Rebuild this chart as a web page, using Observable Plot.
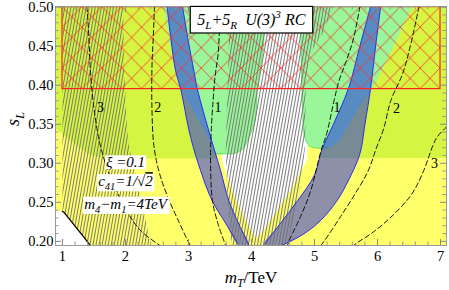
<!DOCTYPE html>
<html>
<head>
<meta charset="utf-8">
<script src="https://cdn.jsdelivr.net/npm/d3@7"></script>
<script src="https://cdn.jsdelivr.net/npm/@observablehq/plot@0.6"></script>
<style>
html,body{margin:0;padding:0;background:#fff;}
#chart svg{display:block;}
</style>
</head>
<body>
<div id="chart"></div>
<script>
// ---------- axes ----------
const xDomain = [0.889, 7.095];
const yDomain = [0.1947, 0.5008];
const xMajor = [1, 2, 3, 4, 5, 6, 7];
const yMajor = [0.20, 0.25, 0.30, 0.35, 0.40, 0.45, 0.50];
const xMinor = d3.range(1, 7.001, 0.2).filter(v => Math.abs(v - Math.round(v)) > 1e-6);
const yMinor = d3.range(0.20, 0.5001, 0.01).filter(v => Math.abs(v * 20 - Math.round(v * 20)) > 1e-6);
const xTitle = "m_T/TeV";
const yTitle = "s_L";

// ---------- regions (s_L vs m_T) ----------
const chartL = [[0.86,0.51],[3.2,0.51],[3.40,0.34],[3.46,0.306],[2.0,0.3062],[1.6,0.3075],[1.42,0.311],[1.29,0.319],[1.08,0.332],[0.86,0.347]];
const chartR = [[5.6,0.51],[7.2,0.51],[7.2,0.307],[6.5,0.3068],[5.8,0.3065],[5.3,0.307],[5.07,0.307],[5.12,0.318],[5.29,0.35],[5.54,0.396],[5.72,0.45],[5.89,0.51]];
const whiteV = [[4.0,0.5008],[4.9,0.5008],[4.9,0.33],[4.88,0.304],[4.62,0.265],[4.41,0.24],[4.20,0.215],[4.07,0.2035],[3.95,0.22],[3.83,0.24],[3.69,0.265],[3.53,0.304],[3.55,0.33],[4.0,0.45]];
const greenL = [[2.60,0.5008],[2.72,0.45],[2.846,0.402],[3.10,0.364],[3.349,0.327],[3.42,0.3125],[3.60,0.312],[3.72,0.3125],[3.86,0.318],[3.97,0.335],[4.05,0.352],[4.08,0.372],[4.09,0.396],[4.15,0.425],[4.195,0.457],[4.21,0.5008]];
const greenR = [[4.79,0.5008],[4.785,0.45],[4.80,0.40],[4.815,0.36],[4.84,0.335],[4.92,0.322],[5.05,0.3195],[5.20,0.320],[5.35,0.326],[5.46,0.338],[5.68,0.368],[5.92,0.396],[6.55,0.5008]];
const bandLL = [[2.66,0.5008],[2.72,0.46],[2.794,0.419],[2.873,0.396],[3.032,0.334],[3.19,0.291],[3.376,0.252],[3.588,0.2235],[3.80,0.1947]];
const bandLR = [[2.905,0.5008],[3.0,0.455],[3.084,0.419],[3.138,0.396],[3.349,0.334],[3.508,0.291],[3.64,0.252],[3.80,0.222],[3.96,0.1947]];
const bandRL = [[5.89,0.5008],[5.72,0.45],[5.54,0.396],[5.30,0.35],[5.12,0.318],[5.0,0.285],[4.73,0.252],[4.45,0.222],[4.19,0.1947]];
const bandRR = [[6.05,0.5008],[5.97,0.45],[5.89,0.396],[5.80,0.35],[5.72,0.312],[5.55,0.28],[5.36,0.2525],[5.10,0.227],[4.80,0.208],[4.47,0.1947]];
const hatchL = [[1.0,0.5008],[1.96,0.5008],[1.98,0.42],[2.02,0.35],[2.05,0.323],[2.24,0.259],[2.40,0.1947],[1.0,0.1947]];
const hatchM = [[3.66,0.5008],[5.3,0.5008],[5.12,0.465],[4.92,0.44],[4.86,0.40],[4.85,0.32],[4.78,0.27],[4.57,0.1947],[3.68,0.1947],[3.62,0.25],[3.59,0.32],[3.62,0.40]];
const cornerW = [[0.86,0.2395],[1.02,0.2375],[1.12,0.2275],[1.23,0.2163],[1.34,0.2055],[1.44,0.1947],[1.45,0.19],[0.86,0.19]];
const cornerLine = [[1.0,0.2383],[1.02,0.2375],[1.12,0.2275],[1.23,0.2163],[1.34,0.2055],[1.44,0.1947]];
const redRect = [{x1: 1, x2: 7, y1: 0.395, y2: 0.5}];

// ---------- dashed contours ----------
const contours = [
  {id: "3L", pts: [[1.39,0.5008],[1.42,0.46],[1.44,0.423],[1.50,0.37],[1.60,0.323],[1.75,0.285],[2.03,0.2375],[2.25,0.213],[2.55,0.1947]]},
  {id: "2L", pts: [[2.46,0.5008],[2.44,0.46],[2.42,0.423],[2.42,0.37],[2.45,0.323],[2.53,0.29],[2.66,0.259],[2.83,0.228],[3.0,0.199],[3.03,0.1947]]},
  {id: "1L", pts: [[3.50,0.5008],[3.49,0.47],[3.47,0.44],[3.42,0.41],[3.39,0.38],[3.36,0.34],[3.35,0.30],[3.38,0.252],[3.47,0.222],[3.56,0.201],[3.59,0.1947]]},
  {id: "1R", pts: [[5.72,0.5008],[5.62,0.46],[5.50,0.43],[5.39,0.406],[5.31,0.38],[5.2,0.34],[5.1,0.315],[4.94,0.265],[4.78,0.232],[4.62,0.205],[4.57,0.1947]]},
  {id: "2R", pts: [[6.66,0.5008],[6.52,0.45],[6.40,0.415],[6.21,0.38],[6.10,0.345],[5.98,0.319],[5.85,0.29],[5.63,0.259],[5.40,0.23],[5.16,0.201],[5.10,0.1947]]},
  {id: "3R", pts: [[7.10,0.347],[6.95,0.334],[6.88,0.323],[6.72,0.288],[6.53,0.259],[6.2,0.23],[5.9,0.21],[5.69,0.199],[5.62,0.1947]]}
];
const contourLabels = [
  {x: 1.605, y: 0.372, t: "3"}, {x: 2.51, y: 0.372, t: "2"}, {x: 3.468, y: 0.371, t: "1"},
  {x: 5.357, y: 0.371, t: "1"}, {x: 6.30, y: 0.370, t: "2"}, {x: 6.905, y: 0.300, t: "3"}
];

// ---------- annotations ----------
const annotations = [
  {x: 2.0, y: 0.301, t: "ξ =0.1"},
  {x: 2.0, y: 0.2769, t: "c_41=1/√2"},
  {x: 2.0, y: 0.248, t: "m_4−m_1=4TeV"}
];
const legendLabel = [{x: 3.997, y: 0.4843, t: "5_L+5_R  U(3)^3 RC"}];

const rich = {
  "m_T/TeV": [["m","i"],["T","ib"],["/TeV",""]],
  "s_L": [["s","i"],["L","ib"]],
  "ξ =0.1": [["ξ =0.1","i"]],
  "c_41=1/√2": [["c","i"],["41","ib"],["=1/√","i"],["2","io"]],
  "m_4−m_1=4TeV": [["m","i"],["4","ib"],["−m","i"],["1","ib"],["=4TeV","i"]],
  "5_L+5_R  U(3)^3 RC": [["5","i"],["L","ib"],["+5","i"],["R","ib"],["  U(3)","i"],["3","ip"],[" RC","i"]]
};

// ---------- colours ----------
const yellowC = "#ffff6a", chartC = "#d5f542", greenC = "#99f699";
const bandFill = "rgb(18,24,240)", bandStroke = "#2b2bea";
const serif = "'Liberation Serif','Times New Roman',serif";

const W = 449, H = 290, mL = 55, mR = 3, mT = 6, mB = 45;
const plotW = W - mL - mR, plotH = H - mT - mB;

const poly = (pts, o) => Plot.line(pts, {x: d => d[0], y: d => d[1], stroke: "none", clip: true, ...o});
const path = (pts, o) => Plot.line(pts, {x: d => d[0], y: d => d[1], fill: "none", clip: true, ...o});
const contourPts = contours.flatMap(c => c.pts.map(p => ({id: c.id, x: p[0], y: p[1]})));

const svg = Plot.plot({
  width: W, height: H,
  marginLeft: mL, marginRight: mR, marginTop: mT, marginBottom: mB,
  x: {domain: xDomain},
  y: {domain: yDomain},
  style: {fontFamily: serif, background: "white", color: "black"},
  marks: [
    Plot.frame({fill: yellowC, stroke: "none"}),
    poly(chartL, {fill: chartC}),
    poly(chartR, {fill: chartC}),
    poly(whiteV, {fill: "white"}),
    poly(greenL, {fill: greenC, curve: "catmull-rom"}),
    poly(greenR, {fill: greenC, curve: "catmull-rom"}),
    path(greenL.slice(5), {stroke: "#55dd55", strokeWidth: 0.8, curve: "catmull-rom"}),
    path(greenR.slice(0, 8), {stroke: "#55dd55", strokeWidth: 0.8, curve: "catmull-rom"}),
    poly(bandLL.concat(bandLR.slice().reverse()), {fill: bandFill, fillOpacity: 0.48, curve: "catmull-rom"}),
    poly(bandRL.concat(bandRR.slice().reverse()), {fill: bandFill, fillOpacity: 0.48, curve: "catmull-rom"}),
    poly(hatchL, {fill: "url(#vhatch)"}),
    poly(hatchM, {fill: "url(#vhatch)"}),
    path(bandLL, {stroke: bandStroke, strokeWidth: 1, curve: "catmull-rom"}),
    path(bandLR, {stroke: bandStroke, strokeWidth: 1, curve: "catmull-rom"}),
    path(bandRL, {stroke: bandStroke, strokeWidth: 1, curve: "catmull-rom"}),
    path(bandRR, {stroke: bandStroke, strokeWidth: 1, curve: "catmull-rom"}),
    poly(cornerW, {fill: "white"}),
    path(cornerLine, {stroke: "black", strokeWidth: 1.3}),
    Plot.rect(redRect, {x1: "x1", x2: "x2", y1: "y1", y2: "y2", fill: "url(#xhatch)", stroke: "#ff2424", strokeWidth: 1.2}),
    Plot.line(contourPts, {x: "x", y: "y", z: "id", stroke: "black", strokeWidth: 0.9, strokeDasharray: "5,3", curve: "catmull-rom", clip: true}),
    Plot.text(contourLabels, {x: "x", y: "y", text: "t", fontSize: 14, fontFamily: serif}),
    Plot.frame({stroke: "#999", strokeWidth: 1}),
    Plot.tickX(xMajor, {x: d => d, insetTop: plotH - 6, stroke: "#888"}),
    Plot.tickX(xMajor, {x: d => d, insetBottom: plotH - 6, stroke: "#888"}),
    Plot.tickX(xMinor, {x: d => d, insetTop: plotH - 3.5, stroke: "#999"}),
    Plot.tickX(xMinor, {x: d => d, insetBottom: plotH - 3.5, stroke: "#999"}),
    Plot.tickY(yMajor, {y: d => d, insetRight: plotW - 6, stroke: "#888"}),
    Plot.tickY(yMajor, {y: d => d, insetLeft: plotW - 6, stroke: "#888"}),
    Plot.tickY(yMinor, {y: d => d, insetRight: plotW - 3.5, stroke: "#999"}),
    Plot.tickY(yMinor, {y: d => d, insetLeft: plotW - 3.5, stroke: "#999"}),
    Plot.axisX({ticks: xMajor, tickSize: 0, tickPadding: 5, fontSize: 14.5, fontFamily: serif, tickFormat: d3.format("d"), label: null}),
    Plot.axisY({ticks: yMajor, tickSize: 0, tickPadding: 2, fontSize: 14.5, fontFamily: serif, tickFormat: d3.format(".2f"), label: null}),
    Plot.text([xTitle], {text: d => d, frameAnchor: "bottom", dy: 37, lineAnchor: "bottom", fontSize: 17, fontFamily: serif}),
    Plot.text([yTitle], {text: d => d, frameAnchor: "left", dx: -37, rotate: -90, lineAnchor: "bottom", fontSize: 18, fontFamily: serif}),
    Plot.text(annotations, {x: "x", y: "y", text: "t", fontSize: 15, fontFamily: serif}),
    Plot.text(legendLabel, {x: "x", y: "y", text: "t", fontSize: 16, fontFamily: serif})
  ]
});
document.getElementById("chart").append(svg);

// ---------- patterns (positioned with the plot's scales) ----------
const sx = svg.scale("x"), sy = svg.scale("y");
const defs = d3.select(svg).insert("defs", ":first-child");
const vp = defs.append("pattern").attr("id", "vhatch").attr("patternUnits", "userSpaceOnUse")
  .attr("width", 3).attr("height", 12).attr("patternTransform", "rotate(10)");
vp.append("line").attr("x1", 1.5).attr("x2", 1.5).attr("y1", -2).attr("y2", 14)
  .attr("stroke", "#6e6e6e").attr("stroke-width", 0.9);
const x0 = sx.apply(redRect[0].x1), y0 = sy.apply(redRect[0].y2);
const pw = (sx.apply(redRect[0].x2) - x0) / 19, ph = (sy.apply(redRect[0].y1) - y0) / 4;
const xp = defs.append("pattern").attr("id", "xhatch").attr("patternUnits", "userSpaceOnUse")
  .attr("x", x0).attr("y", y0).attr("width", pw).attr("height", ph);
xp.append("path").attr("d", `M0,0L${pw},${ph}M${pw},0L0,${ph}`)
  .attr("stroke", "#ff2a2a").attr("stroke-width", 0.8).attr("fill", "none");

// ---------- rich text (subscripts etc.) ----------
function richify(el, parts, size) {
  const t = d3.select(el);
  t.text(null).style("white-space", "pre");
  let shift = 0;
  for (const [s, f] of parts) {
    const target = f.includes("b") ? size * 0.28 : f.includes("p") ? -size * 0.38 : 0;
    const ts = t.append("tspan").text(s);
    if (target !== shift) { ts.attr("dy", target - shift); shift = target; }
    ts.attr("font-style", f.includes("i") ? "italic" : "normal");
    if (f.includes("b") || f.includes("p")) ts.attr("font-size", size * 0.7);
    if (f.includes("o")) ts.style("text-decoration", "overline");
  }
}
d3.select(svg).selectAll("text").each(function () {
  const s = this.textContent;
  if (rich[s]) {
    const size = parseFloat(d3.select(this.parentNode).attr("font-size")) || 15;
    const key = s;
    richify(this, rich[s], size);
    const bb = this.getBBox();
    const tr = this.getAttribute("transform");
    if (annotations.some(a => a.t === key)) {
      const r = document.createElementNS("http://www.w3.org/2000/svg", "rect");
      r.setAttribute("x", bb.x - 1); r.setAttribute("y", bb.y + 1);
      r.setAttribute("width", bb.width + 2); r.setAttribute("height", bb.height - 2);
      r.setAttribute("fill", "white");
      if (tr) r.setAttribute("transform", tr);
      this.parentNode.insertBefore(r, this);
    } else if (legendLabel.some(a => a.t === key)) {
      const r = document.createElementNS("http://www.w3.org/2000/svg", "rect");
      r.setAttribute("x", bb.x - 7); r.setAttribute("y", bb.y - 2);
      r.setAttribute("width", bb.width + 14); r.setAttribute("height", bb.height + 4);
      r.setAttribute("fill", "white"); r.setAttribute("stroke", "black"); r.setAttribute("stroke-width", 1.2);
      if (tr) r.setAttribute("transform", tr);
      this.parentNode.insertBefore(r, this);
    }
  }
});
</script>
</body>
</html>
